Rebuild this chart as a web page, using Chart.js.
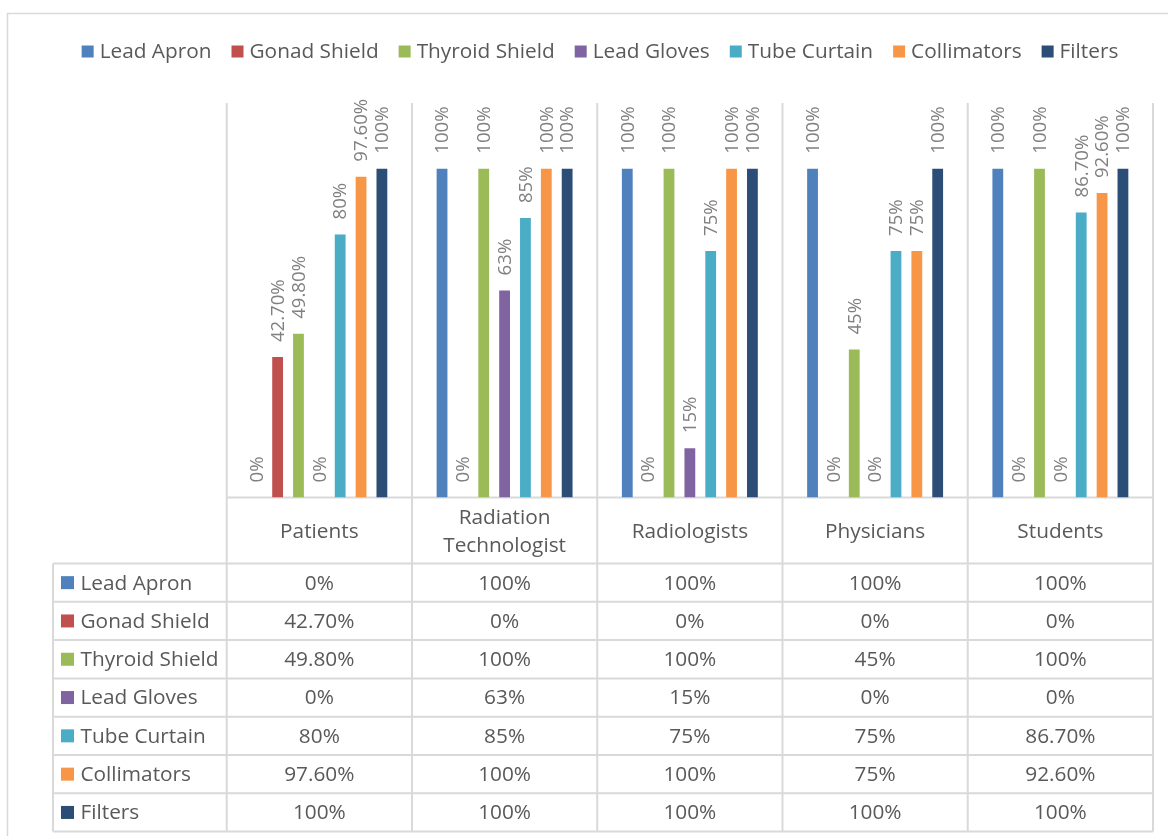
<!DOCTYPE html>
<html>
<head>
<meta charset="utf-8">
<script src="https://cdn.jsdelivr.net/npm/chart.js@4.4.1/dist/chart.umd.min.js"></script>
<style>
  html, body { margin: 0; padding: 0; background: #ffffff; }
  canvas { display: block; }
</style>
</head>
<body>
<canvas id="c" width="1168" height="836"></canvas>
<script>
// ---- Data ----
const categories = ['Patients', ['Radiation', 'Technologist'], 'Radiologists', 'Physicians', 'Students'];
const seriesNames = ['Lead Apron', 'Gonad Shield', 'Thyroid Shield', 'Lead Gloves', 'Tube Curtain', 'Collimators', 'Filters'];
const leadApron     = [0, 100, 100, 100, 100];
const gonadShield   = [42.7, 0, 0, 0, 0];
const thyroidShield = [49.8, 100, 100, 45, 100];
const leadGloves    = [0, 63, 15, 0, 0];
const tubeCurtain   = [80, 85, 75, 75, 86.7];
const collimators   = [97.6, 100, 100, 75, 92.6];
const filters       = [100, 100, 100, 100, 100];
const seriesColors  = ['#4F81BD', '#C0504D', '#9BBB59', '#8064A2', '#4BACC6', '#F79646', '#2C4D75'];
const yMax = 120;

const seriesValues = [leadApron, gonadShield, thyroidShield, leadGloves, tubeCurtain, collimators, filters];

function fmt(v) {
  return Number.isInteger(v) ? v + '%' : v.toFixed(2) + '%';
}

const FONT = '"Open Sans", "DejaVu Sans", sans-serif';
const GRID = '#d9d9d9';
const TEXT = '#595959';
const LABEL = '#808080';

const decor = {
  id: 'decor',
  beforeDraw(chart) {
    const ctx = chart.ctx;
    ctx.save();
    ctx.fillStyle = '#ffffff';
    ctx.fillRect(0, 0, chart.width, chart.height);
    // outer chart border
    ctx.strokeStyle = GRID;
    ctx.lineWidth = 1.5;
    ctx.beginPath();
    ctx.moveTo(7.5, chart.height);
    ctx.lineTo(7.5, 13.5);
    ctx.lineTo(chart.width, 13.5);
    ctx.stroke();
    ctx.restore();
  },
  beforeDatasetsDraw(chart) {
    const ctx = chart.ctx;
    const ca = chart.chartArea;
    const xs = chart.scales.x;
    const n = categories.length;
    const w = xs.getPixelForValue(1) - xs.getPixelForValue(0);
    const rowTop = 563.5, rowH = 38.3, nRows = seriesNames.length;
    const tableBottom = rowTop + rowH * nRows;
    const x0 = 53;
    ctx.save();
    ctx.strokeStyle = GRID;
    ctx.lineWidth = 2;
    ctx.beginPath();
    for (let i = 0; i <= n; i++) {
      const bx = (i < n ? xs.getPixelForValue(i) - w / 2 : xs.getPixelForValue(n - 1) + w / 2);
      ctx.moveTo(bx, ca.top);
      ctx.lineTo(bx, tableBottom);
    }
    // axis line / header top
    ctx.moveTo(ca.left, ca.bottom);
    ctx.lineTo(ca.right, ca.bottom);
    // table rows
    for (let r = 0; r <= nRows; r++) {
      const y = rowTop + r * rowH;
      ctx.moveTo(x0, y);
      ctx.lineTo(ca.right, y);
    }
    ctx.moveTo(x0, rowTop);
    ctx.lineTo(x0, tableBottom);
    ctx.stroke();

    // header labels
    ctx.fillStyle = TEXT;
    ctx.font = '20.8px ' + FONT;
    ctx.textAlign = 'center';
    ctx.textBaseline = 'middle';
    const headMid = (ca.bottom + rowTop) / 2 + 1.5;
    for (let i = 0; i < n; i++) {
      const cx = xs.getPixelForValue(i);
      const lab = categories[i];
      if (Array.isArray(lab)) {
        const lh = 28;
        lab.forEach((t, k) => {
          ctx.fillText(t, cx, headMid + (k - (lab.length - 1) / 2) * lh);
        });
      } else {
        ctx.fillText(lab, cx, headMid);
      }
    }
    // table body
    for (let r = 0; r < nRows; r++) {
      const cy = rowTop + r * rowH + rowH / 2;
      ctx.fillStyle = seriesColors[r];
      ctx.fillRect(x0 + 8, cy - 6.5, 13, 13);
      ctx.fillStyle = TEXT;
      ctx.textAlign = 'left';
      ctx.fillText(seriesNames[r], x0 + 27.5, cy + 1);
      ctx.textAlign = 'center';
      for (let i = 0; i < n; i++) {
        ctx.fillText(fmt(seriesValues[r][i]), xs.getPixelForValue(i), cy + 1);
      }
    }

    // legend
    ctx.font = '20.8px ' + FONT;
    const box = 12, gapBT = 6, gapItem = 20;
    const widths = seriesNames.map(s => ctx.measureText(s).width);
    const total = widths.reduce((a, b) => a + b, 0) + seriesNames.length * (box + gapBT) + (seriesNames.length - 1) * gapItem;
    let lx = 600 - total / 2;
    const ly = 51.5;
    ctx.textAlign = 'left';
    for (let s = 0; s < seriesNames.length; s++) {
      ctx.fillStyle = seriesColors[s];
      ctx.fillRect(lx, ly - box / 2, box, box);
      lx += box + gapBT;
      ctx.fillStyle = TEXT;
      ctx.fillText(seriesNames[s], lx, ly + 1);
      lx += widths[s] + gapItem;
    }
    ctx.restore();
  },
  afterDatasetsDraw(chart) {
    const ctx = chart.ctx;
    ctx.save();
    ctx.fillStyle = LABEL;
    ctx.font = '18.6px ' + FONT;
    ctx.textAlign = 'left';
    ctx.textBaseline = 'middle';
    chart.data.datasets.forEach((ds, di) => {
      const meta = chart.getDatasetMeta(di);
      meta.data.forEach((bar, i) => {
        ctx.save();
        ctx.translate(bar.x, bar.y - 15);
        ctx.rotate(-Math.PI / 2);
        ctx.fillText(fmt(ds.data[i]), 0, 1);
        ctx.restore();
      });
    });
    ctx.restore();
  }
};

new Chart(document.getElementById('c'), {
  type: 'bar',
  data: {
    labels: categories,
    datasets: seriesNames.map((name, k) => ({
      label: name,
      data: seriesValues[k],
      backgroundColor: seriesColors[k],
      borderWidth: 0,
      categoryPercentage: 0.788,
      barPercentage: 0.518
    }))
  },
  options: {
    responsive: false,
    animation: false,
    layout: { padding: { left: 226.7, right: 15, top: 103, bottom: 338.5 } },
    scales: {
      x: { display: false, grid: { offset: true } },
      y: { display: false, min: 0, max: yMax }
    },
    plugins: {
      legend: { display: false },
      tooltip: { enabled: false }
    }
  },
  plugins: [decor]
});
</script>
</body>
</html>
